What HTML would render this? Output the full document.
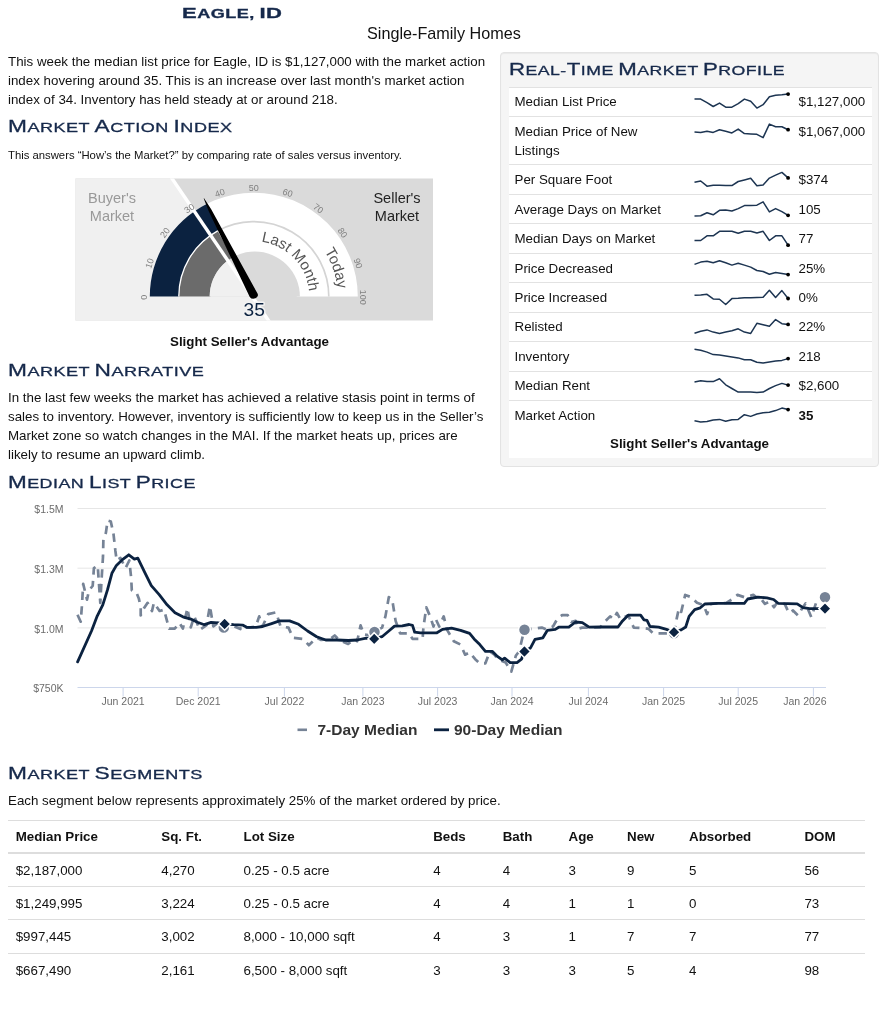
<!DOCTYPE html>
<html lang="en"><head><meta charset="utf-8"><title>Eagle, ID - Single-Family Homes</title>
<style>
html,body{margin:0;padding:0;background:#fff}
body{width:887px;height:1030px;position:relative;overflow:hidden;font-family:"Liberation Sans",Arial,sans-serif;font-size:13.33px;line-height:19.05px;color:#111}
.abs{position:absolute;white-space:nowrap}
.t{font-size:13.33px;line-height:19px;color:#111}
.b{font-weight:bold}
.h2,.h1{color:#16294b;text-transform:uppercase;font-size:12.8px;line-height:20px;transform-origin:0 50%;transform:scaleX(1.41);letter-spacing:0.35px;word-spacing:-0.5px;-webkit-text-stroke:0.3px #16294b}
.h2 b{font-weight:normal;font-size:16.1px}
.h1{font-weight:bold;font-size:11.9px;transform:scaleX(1.52);letter-spacing:0.3px;-webkit-text-stroke:0.3px #16294b}
.h1 b{font-size:14.5px}
.ln{height:1px;background:#ddd}
svg text{font-family:"Liberation Sans",Arial,sans-serif}
.ax{font-size:10.5px;fill:#6c6c6c}
.lg{font-size:15.5px;font-weight:bold;fill:#333}
.gt{font-size:9px;fill:#808080}
.cl{font-size:15px;fill:#555}
.bm{font-size:14.5px;fill:#999}
.sm{font-size:14.5px;fill:#222}
.big{font-size:19.2px;fill:#0b2240;stroke:#f2f2f2;stroke-width:3px;paint-order:stroke;stroke-linejoin:round}
.panel{left:500px;top:51.5px;width:377px;height:413.5px;background:#f5f5f5;border:1px solid #e3e3e3;border-radius:4px;box-shadow:inset 0 1px 1px rgba(0,0,0,.05)}
.pwhite{left:509px;top:86.5px;width:363px;height:371px;background:#fff}
.prow{position:absolute;left:509px;width:363px;border-top:1px solid #e2e2e2;box-sizing:border-box;font-size:13.33px;line-height:19.05px;color:#111}
.pl{position:absolute;left:5.5px;top:4.7px}
.pv{position:absolute;left:289.5px;top:4.7px}
</style></head><body>
<div class="abs h1" style="left:181.9px;top:3.3px;"><b>E</b>agle, <b>ID</b></div>
<div class="abs" style="left:367px;top:23px;font-size:16.2px;line-height:20px;color:#111">Single-Family Homes</div>
<div class="abs t" style="left:8px;top:52px;line-height:19.05px">This week the median list price for Eagle, ID is $1,127,000 with the market action<br>index hovering around 35. This is an increase over last month's market action<br>index of 34. Inventory has held steady at or around 218.</div>
<div class="abs h2" style="left:8px;top:116.2px;"><b>M</b>arket <b>A</b>ction <b>I</b>ndex</div>
<div class="abs" style="left:8px;top:147px;font-size:11.3px;line-height:16px;color:#111">This answers “How’s the Market?” by comparing rate of sales versus inventory.</div>
<svg class="abs" style="left:75px;top:178px" width="359" height="143" viewBox="75 178 359 143">
<defs><clipPath id="gc"><rect x="75.5" y="178.5" width="357.5" height="142"/></clipPath></defs>
<g clip-path="url(#gc)">
<rect x="75" y="178" width="359" height="143" fill="#dadada"/>
<path d="M83.7 48.5 L420.9 544.7 L-300 600 L-300 -300 Z" fill="#f0f0f0"/>
<path d="M149.80 296.60 A104.00 104.00 0 0 1 357.80 296.60 L296.80 296.60 A43.00 43.00 0 0 0 210.80 296.60 Z" fill="#fff"/>
<path d="M149.80 296.60 A104.00 104.00 0 0 1 206.58 203.94 L219.75 229.77 A75.00 75.00 0 0 0 178.80 296.60 Z" fill="#0b2240"/>
<path d="M178.80 296.60 A75.00 75.00 0 0 1 217.67 230.88 L233.08 258.92 A43.00 43.00 0 0 0 210.80 296.60 Z" fill="#6b6b6b"/>
<clipPath id="hub"><path d="M209.70 296.60 A45.1 45.1 0 0 1 299.90 296.60 Z"/></clipPath>
<g clip-path="url(#hub)"><rect x="75" y="178" width="359" height="143" fill="#dadada"/><path d="M83.7 48.5 L420.9 544.7 L-300 600 L-300 -300 Z" fill="#f0f0f0"/></g>
<path d="M178.80 296.60 A75.00 75.00 0 0 1 217.67 230.88" fill="none" stroke="#fff" stroke-width="1.3"/>
<path d="M217.67 230.88 A75.00 75.00 0 0 1 328.80 296.60" fill="none" stroke="#d4d4d4" stroke-width="1.7"/>
<line x1="420.9" y1="544.7" x2="83.7" y2="48.5" stroke="#fff" stroke-width="3.4"/>
<text transform="translate(144.2 297.2) rotate(-90.0)" text-anchor="middle" class="gt" y="3">0</text>
<text transform="translate(149.6 263.3) rotate(-72.0)" text-anchor="middle" class="gt" y="3">10</text>
<text transform="translate(165.1 232.8) rotate(-54.0)" text-anchor="middle" class="gt" y="3">20</text>
<text transform="translate(189.4 208.5) rotate(-36.0)" text-anchor="middle" class="gt" y="3">30</text>
<text transform="translate(219.9 193.0) rotate(-18.0)" text-anchor="middle" class="gt" y="3">40</text>
<text transform="translate(253.8 187.6) rotate(0.0)" text-anchor="middle" class="gt" y="3">50</text>
<text transform="translate(287.7 193.0) rotate(18.0)" text-anchor="middle" class="gt" y="3">60</text>
<text transform="translate(318.2 208.5) rotate(36.0)" text-anchor="middle" class="gt" y="3">70</text>
<text transform="translate(342.5 232.8) rotate(54.0)" text-anchor="middle" class="gt" y="3">80</text>
<text transform="translate(358.0 263.3) rotate(72.0)" text-anchor="middle" class="gt" y="3">90</text>
<text transform="translate(363.4 297.2) rotate(90.0)" text-anchor="middle" class="gt" y="3">100</text>
<path d="M204.07 198.30 L211.18 209.30 L257.24 293.08 A4.2 3.4 0 0 1 249.76 296.92 L208.51 210.67 L203.71 198.48 Z" fill="#000"/>
<path id="plm" d="M198.30 296.60 A55.50 55.50 0 0 1 309.30 296.60" fill="none"/>
<path id="ptd" d="M169.80 296.60 A84.00 84.00 0 0 1 337.80 296.60" fill="none"/>
<text class="cl"><textPath href="#plm" startOffset="97%" text-anchor="end">Last Month</textPath></text>
<text class="cl"><textPath href="#ptd" startOffset="97%" text-anchor="end">Today</textPath></text>
<text x="112" y="203" text-anchor="middle" class="bm">Buyer's</text><text x="112" y="221" text-anchor="middle" class="bm">Market</text>
<text x="397" y="203" text-anchor="middle" class="sm">Seller's</text><text x="397" y="221" text-anchor="middle" class="sm">Market</text>
<text x="254.2" y="315.7" text-anchor="middle" class="big">35</text>
</g></svg>
<div class="abs t b" style="left:170px;top:332px">Slight Seller's Advantage</div>
<div class="abs h2" style="left:8px;top:360.2px;"><b>M</b>arket <b>N</b>arrative</div>
<div class="abs t" style="left:8px;top:388px;line-height:19.05px">In the last few weeks the market has achieved a relative stasis point in terms of<br>sales to inventory. However, inventory is sufficiently low to keep us in the Seller’s<br>Market zone so watch changes in the MAI. If the market heats up, prices are<br>likely to resume an upward climb.</div>
<div class="abs panel"></div>
<div class="abs pwhite"></div>
<div class="abs h2" style="left:509px;top:58.7px;transform:scaleX(1.38)"><b>R</b>eal-<b>T</b>ime <b>M</b>arket <b>P</b>rofile</div>
<div class="prow" style="top:86.5px;height:29.5px"><span class="pl">Median List Price</span><span class="pv">$1,127,000</span></div>
<div class="prow" style="top:116.0px;height:48.0px"><span class="pl">Median Price of New<br>Listings</span><span class="pv">$1,067,000</span></div>
<div class="prow" style="top:164.0px;height:30.1px"><span class="pl">Per Square Foot</span><span class="pv">$374</span></div>
<div class="prow" style="top:194.1px;height:29.3px"><span class="pl">Average Days on Market</span><span class="pv">105</span></div>
<div class="prow" style="top:223.4px;height:29.5px"><span class="pl">Median Days on Market</span><span class="pv">77</span></div>
<div class="prow" style="top:252.9px;height:29.4px"><span class="pl">Price Decreased</span><span class="pv">25%</span></div>
<div class="prow" style="top:282.3px;height:29.4px"><span class="pl">Price Increased</span><span class="pv">0%</span></div>
<div class="prow" style="top:311.7px;height:29.5px"><span class="pl">Relisted</span><span class="pv">22%</span></div>
<div class="prow" style="top:341.2px;height:29.4px"><span class="pl">Inventory</span><span class="pv">218</span></div>
<div class="prow" style="top:370.6px;height:29.5px"><span class="pl">Median Rent</span><span class="pv">$2,600</span></div>
<div class="prow" style="top:400.1px;height:29.4px"><span class="pl">Market Action</span><span class="pv"><b>35</b></span></div>
<svg class="abs" style="left:690px;top:86px" width="104" height="345" viewBox="690 86 104 345">
<path d="M694.5 99.1 L700.7 99.1 L707.0 102.7 L713.2 106.5 L719.5 103.1 L725.7 107.2 L731.9 107.2 L738.2 103.6 L744.4 99.1 L750.7 101.3 L756.9 108.1 L763.1 104.7 L769.4 96.8 L775.6 95.2 L781.9 94.8 L788.1 94.1" fill="none" stroke="#1d3552" stroke-width="1.5" stroke-linejoin="round"/>
<circle cx="788.1" cy="94.1" r="1.9" fill="#000"/>
<path d="M694.5 132.0 L700.7 132.4 L707.0 131.3 L713.2 132.4 L719.5 129.7 L725.7 131.3 L731.9 132.9 L738.2 129.1 L744.4 133.6 L750.7 134.0 L756.9 134.3 L763.1 137.6 L769.4 124.1 L775.6 126.8 L781.9 126.8 L788.1 129.7" fill="none" stroke="#1d3552" stroke-width="1.5" stroke-linejoin="round"/>
<circle cx="788.1" cy="129.7" r="1.9" fill="#000"/>
<path d="M694.5 182.3 L700.7 181.0 L707.0 186.2 L713.2 185.3 L719.5 185.3 L725.7 185.6 L731.9 185.6 L738.2 181.5 L744.4 179.9 L750.7 178.3 L756.9 185.7 L763.1 184.9 L769.4 178.1 L775.6 175.1 L781.9 172.4 L788.1 177.9" fill="none" stroke="#1d3552" stroke-width="1.5" stroke-linejoin="round"/>
<circle cx="788.1" cy="177.9" r="1.9" fill="#000"/>
<path d="M694.5 215.9 L700.7 215.7 L707.0 212.8 L713.2 214.8 L719.5 210.3 L725.7 210.0 L731.9 211.0 L738.2 208.6 L744.4 205.6 L750.7 205.6 L756.9 205.2 L763.1 201.8 L769.4 211.9 L775.6 208.6 L781.9 211.7 L788.1 215.3" fill="none" stroke="#1d3552" stroke-width="1.5" stroke-linejoin="round"/>
<circle cx="788.1" cy="215.3" r="1.9" fill="#000"/>
<path d="M694.5 240.5 L700.7 240.5 L707.0 235.8 L713.2 235.8 L719.5 231.3 L725.7 231.3 L731.9 231.3 L738.2 233.3 L744.4 231.3 L750.7 231.3 L756.9 233.0 L763.1 231.3 L769.4 240.5 L775.6 235.8 L781.9 235.8 L788.1 245.2" fill="none" stroke="#1d3552" stroke-width="1.5" stroke-linejoin="round"/>
<circle cx="788.1" cy="245.2" r="1.9" fill="#000"/>
<path d="M694.5 264.4 L700.7 262.1 L707.0 261.3 L713.2 262.8 L719.5 260.8 L725.7 262.7 L731.9 265.1 L738.2 263.3 L744.4 265.1 L750.7 267.1 L756.9 270.5 L763.1 271.5 L769.4 274.3 L775.6 272.5 L781.9 273.6 L788.1 274.6" fill="none" stroke="#1d3552" stroke-width="1.5" stroke-linejoin="round"/>
<circle cx="788.1" cy="274.6" r="1.9" fill="#000"/>
<path d="M694.5 295.3 L700.7 294.9 L707.0 294.3 L713.2 298.9 L719.5 299.2 L725.7 304.5 L731.9 298.6 L738.2 298.3 L744.4 297.8 L750.7 297.8 L756.9 297.5 L763.1 297.2 L769.4 290.2 L775.6 297.5 L781.9 290.6 L788.1 298.5" fill="none" stroke="#1d3552" stroke-width="1.5" stroke-linejoin="round"/>
<circle cx="788.1" cy="298.5" r="1.9" fill="#000"/>
<path d="M694.5 333.2 L700.7 331.3 L707.0 329.9 L713.2 332.1 L719.5 333.4 L725.7 332.1 L731.9 330.7 L738.2 328.8 L744.4 332.1 L750.7 333.4 L756.9 323.3 L763.1 324.7 L769.4 326.2 L775.6 319.6 L781.9 323.7 L788.1 324.4" fill="none" stroke="#1d3552" stroke-width="1.5" stroke-linejoin="round"/>
<circle cx="788.1" cy="324.4" r="1.9" fill="#000"/>
<path d="M694.5 349.2 L700.7 350.2 L707.0 352.1 L713.2 354.6 L719.5 355.0 L725.7 356.0 L731.9 356.9 L738.2 357.9 L744.4 359.8 L750.7 359.8 L756.9 362.3 L763.1 363.0 L769.4 362.0 L775.6 361.1 L781.9 360.4 L788.1 358.6" fill="none" stroke="#1d3552" stroke-width="1.5" stroke-linejoin="round"/>
<circle cx="788.1" cy="358.6" r="1.9" fill="#000"/>
<path d="M694.5 381.9 L700.7 380.8 L707.0 381.6 L713.2 381.6 L719.5 378.7 L725.7 384.8 L731.9 388.5 L738.2 392.1 L744.4 392.1 L750.7 392.1 L756.9 392.4 L763.1 392.1 L769.4 388.5 L775.6 385.6 L781.9 383.4 L788.1 385.1" fill="none" stroke="#1d3552" stroke-width="1.5" stroke-linejoin="round"/>
<circle cx="788.1" cy="385.1" r="1.9" fill="#000"/>
<path d="M694.5 420.8 L700.7 422.0 L707.0 421.5 L713.2 420.1 L719.5 419.4 L725.7 421.3 L731.9 419.8 L738.2 419.4 L744.4 414.7 L750.7 416.4 L756.9 414.0 L763.1 412.8 L769.4 412.2 L775.6 410.6 L781.9 408.1 L788.1 409.6" fill="none" stroke="#1d3552" stroke-width="1.5" stroke-linejoin="round"/>
<circle cx="788.1" cy="409.6" r="1.9" fill="#000"/>
</svg>
<div class="abs t b" style="left:610px;top:434px">Slight Seller's Advantage</div>
<div class="abs h2" style="left:8px;top:471.5px;transform:scaleX(1.396)"><b>M</b>edian <b>L</b>ist <b>P</b>rice</div>
<svg class="abs" style="left:0;top:490px" width="887" height="260" viewBox="0 490 887 260">
<line x1="77.5" x2="826" y1="508.5" y2="508.5" stroke="#e6e6e6" stroke-width="1"/>
<line x1="77.5" x2="826" y1="568.2" y2="568.2" stroke="#e6e6e6" stroke-width="1"/>
<line x1="77.5" x2="826" y1="627.9" y2="627.9" stroke="#e6e6e6" stroke-width="1"/>
<line x1="77.5" x2="826" y1="687.5" y2="687.5" stroke="#ccd6eb" stroke-width="1"/>
<line x1="123.1" x2="123.1" y1="687.5" y2="696.5" stroke="#ccd6eb" stroke-width="1"/>
<text x="123.1" y="705" text-anchor="middle" class="ax">Jun 2021</text>
<line x1="198.2" x2="198.2" y1="687.5" y2="696.5" stroke="#ccd6eb" stroke-width="1"/>
<text x="198.2" y="705" text-anchor="middle" class="ax">Dec 2021</text>
<line x1="284.4" x2="284.4" y1="687.5" y2="696.5" stroke="#ccd6eb" stroke-width="1"/>
<text x="284.4" y="705" text-anchor="middle" class="ax">Jul 2022</text>
<line x1="362.9" x2="362.9" y1="687.5" y2="696.5" stroke="#ccd6eb" stroke-width="1"/>
<text x="362.9" y="705" text-anchor="middle" class="ax">Jan 2023</text>
<line x1="437.6" x2="437.6" y1="687.5" y2="696.5" stroke="#ccd6eb" stroke-width="1"/>
<text x="437.6" y="705" text-anchor="middle" class="ax">Jul 2023</text>
<line x1="512.0" x2="512.0" y1="687.5" y2="696.5" stroke="#ccd6eb" stroke-width="1"/>
<text x="512.0" y="705" text-anchor="middle" class="ax">Jan 2024</text>
<line x1="588.4" x2="588.4" y1="687.5" y2="696.5" stroke="#ccd6eb" stroke-width="1"/>
<text x="588.4" y="705" text-anchor="middle" class="ax">Jul 2024</text>
<line x1="663.6" x2="663.6" y1="687.5" y2="696.5" stroke="#ccd6eb" stroke-width="1"/>
<text x="663.6" y="705" text-anchor="middle" class="ax">Jan 2025</text>
<line x1="738.2" x2="738.2" y1="687.5" y2="696.5" stroke="#ccd6eb" stroke-width="1"/>
<text x="738.2" y="705" text-anchor="middle" class="ax">Jul 2025</text>
<line x1="813.4" x2="813.4" y1="687.5" y2="696.5" stroke="#ccd6eb" stroke-width="1"/>
<text x="826.5" y="705" text-anchor="end" class="ax">Jan 2026</text>
<text x="63.5" y="513.4" text-anchor="end" class="ax">$1.5M</text>
<text x="63.5" y="573.1" text-anchor="end" class="ax">$1.3M</text>
<text x="63.5" y="632.8" text-anchor="end" class="ax">$1.0M</text>
<text x="63.5" y="692.4" text-anchor="end" class="ax">$750K</text>
<path d="M77.5 614.8 L80.7 621.7 L81.9 606.0 L83.2 583.9 L87.0 599.6 L88.9 590.8 L92.7 585.8 L93.9 568.1 L97.7 565.6 L99.0 584.5 L100.3 602.8 L101.5 580.7 L103.0 556.7 L103.4 539.0 L105.9 532.7 L107.6 520.5 L110.8 521.5 L113.5 534.0 L115.4 551.0 L116.7 560.5 L120.5 558.0 L125.5 568.1 L129.3 560.5 L131.2 578.2 L131.8 590.2 L136.2 592.1 L138.8 598.4 L140.7 607.2 L140.7 615.4 L143.8 608.5 L147.6 602.8 L152.0 611.0 L153.9 602.8 L159.6 611.0 L164.0 609.7 L169.1 628.7 L174.7 628.7 L179.5 622.9 L182.9 628.5 L187.4 608.2 L190.8 627.4 L194.2 616.1 L199.8 629.7 L206.6 625.1 L209.9 606.0 L213.3 626.3 L217.8 622.9 L223.5 629.7 L231.4 625.1 L240.4 629.0 L240.0 626.5 L249.0 627.6 L255.8 626.5 L259.2 616.4 L262.5 626.5 L268.2 614.1 L276.1 612.3 L280.6 626.5 L288.5 627.6 L293.0 637.8 L303.1 638.9 L308.8 645.2 L316.7 637.8 L321.2 640.0 L330.2 638.9 L334.7 635.5 L339.2 640.0 L348.2 643.9 L355.0 638.9 L357.2 641.2 L360.6 625.4 L364.0 634.4 L370.8 635.5 L374.2 632.2 L382.1 627.6 L385.4 616.4 L388.8 597.2 L392.2 599.5 L395.6 620.9 L400.1 633.3 L409.1 633.3 L412.5 638.9 L422.6 638.9 L423.4 627.6 L426.3 607.4 L430.1 616.4 L433.5 626.5 L435.8 619.1 L439.2 626.5 L443.7 616.4 L447.1 629.9 L453.8 641.2 L460.6 644.6 L465.1 654.7 L469.6 652.4 L475.2 659.2 L479.8 663.3 L485.4 663.3 L489.9 651.3 L494.4 654.7 L497.8 659.2 L505.7 662.6 L511.3 671.6 L515.8 655.8 L519.2 651.3 L522.6 636.7 L524.2 629.4 L532.7 628.8 L541.8 627.6 L546.3 629.4 L553.0 626.5 L557.5 618.6 L562.1 615.2 L567.7 615.2 L571.1 622.0 L575.6 620.9 L577.8 628.8 L582.3 627.6 L589.1 627.6 L600.4 627.2 L604.5 622.0 L610.1 616.4 L613.5 619.1 L616.9 613.0 L620.3 619.1 L628.2 615.2 L633.8 627.6 L642.8 628.1 L648.5 628.8 L653.0 633.3 L665.4 633.3 L674.0 633.3 L676.7 618.6 L678.9 608.5 L681.2 611.9 L685.2 594.9 L691.3 597.2 L697.0 602.8 L703.7 605.1 L707.1 614.1 L710.5 604.0 L726.3 602.8 L731.9 599.5 L737.5 594.9 L744.3 597.2 L753.3 594.9 L757.8 598.3 L759.9 597.3 L764.9 603.9 L769.8 601.4 L774.0 607.2 L777.3 602.3 L784.7 603.9 L788.9 613.0 L793.0 610.5 L798.0 615.5 L801.3 609.7 L805.5 603.4 L811.3 617.2 L817.1 599.8 L825.0 597.3" fill="none" stroke="#768396" stroke-width="2.7" stroke-dasharray="8.4 6.3" stroke-linejoin="round"/>
<circle cx="223.8" cy="627.5" r="6" fill="#768396" stroke="#fff" stroke-width="1.5"/>
<circle cx="374.5" cy="632.0" r="6" fill="#768396" stroke="#fff" stroke-width="1.5"/>
<circle cx="524.5" cy="629.8" r="6" fill="#768396" stroke="#fff" stroke-width="1.5"/>
<circle cx="674.0" cy="633.3" r="6" fill="#768396" stroke="#fff" stroke-width="1.5"/>
<circle cx="825.0" cy="597.3" r="6" fill="#768396" stroke="#fff" stroke-width="1.5"/>
<path d="M77.6 661.9 L91.6 630.8 L97.2 616.1 L102.8 604.8 L107.4 590.2 L111.9 573.3 L116.4 565.4 L123.1 559.1 L128.8 554.8 L134.4 559.1 L137.8 558.2 L144.6 572.2 L151.3 585.7 L159.2 594.7 L167.1 604.8 L175.0 612.7 L182.9 616.8 L190.8 619.1 L197.5 622.2 L204.3 624.7 L211.1 622.4 L217.8 622.9 L224.6 624.0 L233.6 624.7 L242.6 625.1 L247.1 627.4 L256.2 627.4 L262.5 626.5 L271.6 623.6 L279.5 620.9 L289.6 620.9 L298.6 624.3 L307.6 631.0 L316.7 636.7 L325.7 640.0 L337.0 640.0 L348.2 640.5 L357.2 640.0 L366.3 638.2 L374.2 638.9 L382.0 636.7 L388.8 631.0 L394.5 626.1 L402.3 625.8 L409.1 624.5 L412.5 625.4 L414.7 632.2 L420.4 632.8 L436.9 632.8 L442.5 629.4 L451.6 628.1 L460.6 630.3 L469.6 633.3 L474.1 638.9 L479.8 644.6 L485.4 651.3 L492.2 651.3 L496.7 655.8 L502.3 659.9 L504.6 658.1 L510.2 662.6 L517.0 662.6 L521.5 659.2 L524.2 651.3 L530.5 647.9 L535.0 639.4 L542.9 637.8 L547.4 630.3 L555.3 629.4 L558.7 627.2 L568.8 627.2 L575.6 622.0 L582.3 622.7 L589.1 627.2 L600.4 627.0 L618.0 627.0 L622.5 620.9 L628.2 615.2 L640.6 615.2 L644.0 619.8 L647.0 620.4 L650.0 626.5 L658.6 627.2 L666.5 629.4 L674.0 632.2 L681.2 629.9 L685.7 627.0 L689.1 616.4 L694.7 609.6 L700.3 607.8 L704.8 604.0 L717.2 603.3 L744.3 603.3 L747.7 599.0 L757.8 597.2 L766.9 597.9 L773.6 599.5 L778.1 603.3 L797.2 603.9 L803.0 607.7 L809.6 608.6 L825.0 608.6" fill="none" stroke="#0b2240" stroke-width="2.8" stroke-linejoin="round" stroke-linecap="round"/>
<path d="M224.6 617.8 l6.2 6.2 l-6.2 6.2 l-6.2 -6.2 z" fill="#0b2240" stroke="#fff" stroke-width="1.6"/>
<path d="M374.2 632.7 l6.2 6.2 l-6.2 6.2 l-6.2 -6.2 z" fill="#0b2240" stroke="#fff" stroke-width="1.6"/>
<path d="M524.4 645.3 l6.2 6.2 l-6.2 6.2 l-6.2 -6.2 z" fill="#0b2240" stroke="#fff" stroke-width="1.6"/>
<path d="M674.0 626.0 l6.2 6.2 l-6.2 6.2 l-6.2 -6.2 z" fill="#0b2240" stroke="#fff" stroke-width="1.6"/>
<path d="M825.0 602.4 l6.2 6.2 l-6.2 6.2 l-6.2 -6.2 z" fill="#0b2240" stroke="#fff" stroke-width="1.6"/>
<line x1="297.5" x2="307" y1="729.8" y2="729.8" stroke="#768396" stroke-width="2.6"/>
<text x="317.5" y="735" class="lg">7-Day Median</text>
<line x1="434" x2="449" y1="729.8" y2="729.8" stroke="#0b2240" stroke-width="2.8"/>
<text x="454" y="735" class="lg">90-Day Median</text>
</svg>
<div class="abs h2" style="left:8px;top:763.2px;"><b>M</b>arket <b>S</b>egments</div>
<div class="abs t" style="left:8px;top:791px">Each segment below represents approximately 25% of the market ordered by price.</div>
<div class="abs ln" style="left:8px;top:819.5px;width:857px"></div>
<div class="abs ln" style="left:8px;top:852px;width:857px;height:2px"></div>
<div class="abs ln" style="left:8px;top:885.8px;width:857px"></div>
<div class="abs ln" style="left:8px;top:919.1px;width:857px"></div>
<div class="abs ln" style="left:8px;top:952.5px;width:857px"></div>
<div class="abs t b" style="left:15.7px;top:827px">Median Price</div>
<div class="abs t b" style="left:161.3px;top:827px">Sq. Ft.</div>
<div class="abs t b" style="left:243.5px;top:827px">Lot Size</div>
<div class="abs t b" style="left:433.2px;top:827px">Beds</div>
<div class="abs t b" style="left:502.7px;top:827px">Bath</div>
<div class="abs t b" style="left:568.5px;top:827px">Age</div>
<div class="abs t b" style="left:627.0px;top:827px">New</div>
<div class="abs t b" style="left:689.0px;top:827px">Absorbed</div>
<div class="abs t b" style="left:804.4px;top:827px">DOM</div>
<div class="abs t" style="left:15.7px;top:860.5px">$2,187,000</div>
<div class="abs t" style="left:161.3px;top:860.5px">4,270</div>
<div class="abs t" style="left:243.5px;top:860.5px">0.25 - 0.5 acre</div>
<div class="abs t" style="left:433.2px;top:860.5px">4</div>
<div class="abs t" style="left:502.7px;top:860.5px">4</div>
<div class="abs t" style="left:568.5px;top:860.5px">3</div>
<div class="abs t" style="left:627.0px;top:860.5px">9</div>
<div class="abs t" style="left:689.0px;top:860.5px">5</div>
<div class="abs t" style="left:804.4px;top:860.5px">56</div>
<div class="abs t" style="left:15.7px;top:893.8px">$1,249,995</div>
<div class="abs t" style="left:161.3px;top:893.8px">3,224</div>
<div class="abs t" style="left:243.5px;top:893.8px">0.25 - 0.5 acre</div>
<div class="abs t" style="left:433.2px;top:893.8px">4</div>
<div class="abs t" style="left:502.7px;top:893.8px">4</div>
<div class="abs t" style="left:568.5px;top:893.8px">1</div>
<div class="abs t" style="left:627.0px;top:893.8px">1</div>
<div class="abs t" style="left:689.0px;top:893.8px">0</div>
<div class="abs t" style="left:804.4px;top:893.8px">73</div>
<div class="abs t" style="left:15.7px;top:927.1px">$997,445</div>
<div class="abs t" style="left:161.3px;top:927.1px">3,002</div>
<div class="abs t" style="left:243.5px;top:927.1px">8,000 - 10,000 sqft</div>
<div class="abs t" style="left:433.2px;top:927.1px">4</div>
<div class="abs t" style="left:502.7px;top:927.1px">3</div>
<div class="abs t" style="left:568.5px;top:927.1px">1</div>
<div class="abs t" style="left:627.0px;top:927.1px">7</div>
<div class="abs t" style="left:689.0px;top:927.1px">7</div>
<div class="abs t" style="left:804.4px;top:927.1px">77</div>
<div class="abs t" style="left:15.7px;top:960.5px">$667,490</div>
<div class="abs t" style="left:161.3px;top:960.5px">2,161</div>
<div class="abs t" style="left:243.5px;top:960.5px">6,500 - 8,000 sqft</div>
<div class="abs t" style="left:433.2px;top:960.5px">3</div>
<div class="abs t" style="left:502.7px;top:960.5px">3</div>
<div class="abs t" style="left:568.5px;top:960.5px">3</div>
<div class="abs t" style="left:627.0px;top:960.5px">5</div>
<div class="abs t" style="left:689.0px;top:960.5px">4</div>
<div class="abs t" style="left:804.4px;top:960.5px">98</div>
</body></html>
